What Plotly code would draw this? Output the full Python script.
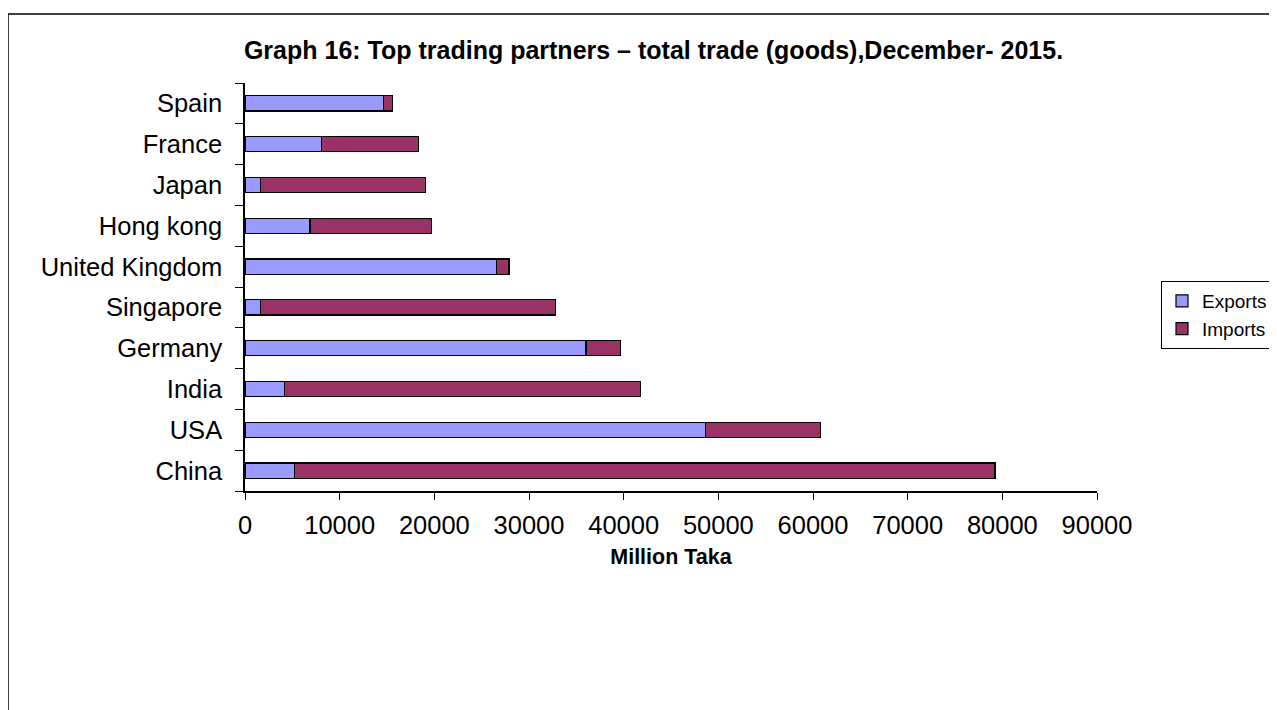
import plotly.graph_objects as go

# Categories listed bottom-to-top as drawn
countries = ["China", "USA", "India", "Germany", "Singapore",
             "United Kingdom", "Hong kong", "Japan", "France", "Spain"]
exports = [5270, 48640, 4170, 36020, 1620, 26580, 6870, 1630, 8110, 14670]
imports = [73960, 12140, 37630, 3650, 31160, 1300, 12840, 17400, 10230, 920]

x_ticks = [0, 10000, 20000, 30000, 40000, 50000, 60000, 70000, 80000, 90000]

title_text = "Graph 16: Top trading partners \u2013 total trade (goods),December- 2015."
x_title = "Million Taka"

FONT = "Liberation Sans, Arial, sans-serif"

fig = go.Figure()
fig.add_trace(go.Bar(
    name="Exports", y=countries, x=exports, orientation="h",
    marker=dict(color="#9999FF", line=dict(color="#000000", width=1.2)),
))
fig.add_trace(go.Bar(
    name="Imports", y=countries, x=imports, orientation="h",
    marker=dict(color="#993366", line=dict(color="#000000", width=1.2)),
))

# page has an 8px body margin, so work in page pixels minus 8
OFF = 8
W, H = 1277 - OFF, 710 - OFF
L, R, T, B = 245 - OFF, 1277 - 1097, 83 - OFF, 710 - 491
pw, ph = W - L - R, H - T - B

def px_x(p):
    return (p - OFF - L) / pw

def px_y(p):
    return (H - B - (p - OFF)) / ph

fig.update_layout(
    width=W, height=H,
    barmode="stack",
    bargap=0.63,
    paper_bgcolor="white",
    plot_bgcolor="white",
    margin=dict(l=L, r=R, t=T, b=B, autoexpand=False),
    font=dict(family=FONT, color="#000000"),
    title=dict(
        text="<b>" + title_text + "</b>",
        font=dict(family=FONT, size=25, color="#000000"),
        x=(653.5 - OFF) / W, xanchor="center",
        y=1 - (50 - OFF) / H, yanchor="middle",
        xref="container", yref="container",
    ),
    xaxis=dict(
        range=[0, 90000],
        tickvals=x_ticks,
        ticktext=[str(v) for v in x_ticks],
        ticks="outside", ticklen=7, tickwidth=1.2, tickcolor="#000000",
        showline=True, linecolor="#000000", linewidth=1.5,
        showgrid=False, zeroline=False,
        tickfont=dict(family=FONT, size=25.5, color="#000000"),
        ticklabelstandoff=4,
        title=dict(text="<b>" + x_title + "</b>",
                   font=dict(family=FONT, size=21.5, color="#000000"),
                   standoff=11),
        automargin=False,
    ),
    yaxis=dict(
        type="category",
        categoryorder="array", categoryarray=countries,
        tickson="boundaries",
        ticks="outside", ticklen=8, tickwidth=1.2, tickcolor="#000000",
        showline=True, linecolor="#000000", linewidth=1.5,
        showgrid=False, zeroline=False,
        tickfont=dict(family=FONT, size=25.5, color="#000000"),
        ticklabelstandoff=16,
        automargin=False,
    ),
    legend=dict(
        x=px_x(1161), xanchor="left",
        y=px_y(315), yanchor="middle",
        traceorder="normal",
        bordercolor="#000000", borderwidth=1,
        bgcolor="white",
        font=dict(family=FONT, size=19, color="#000000"),
        itemwidth=30,
        tracegroupgap=0,
    ),
    shapes=[dict(
        type="rect", xref="paper", yref="paper",
        x0=px_x(8), x1=px_x(1295), y0=px_y(730), y1=px_y(14),
        line=dict(color="#000000", width=1.5), fillcolor="rgba(0,0,0,0)",
        layer="below",
    )],
)

fig.write_html("out.html")
